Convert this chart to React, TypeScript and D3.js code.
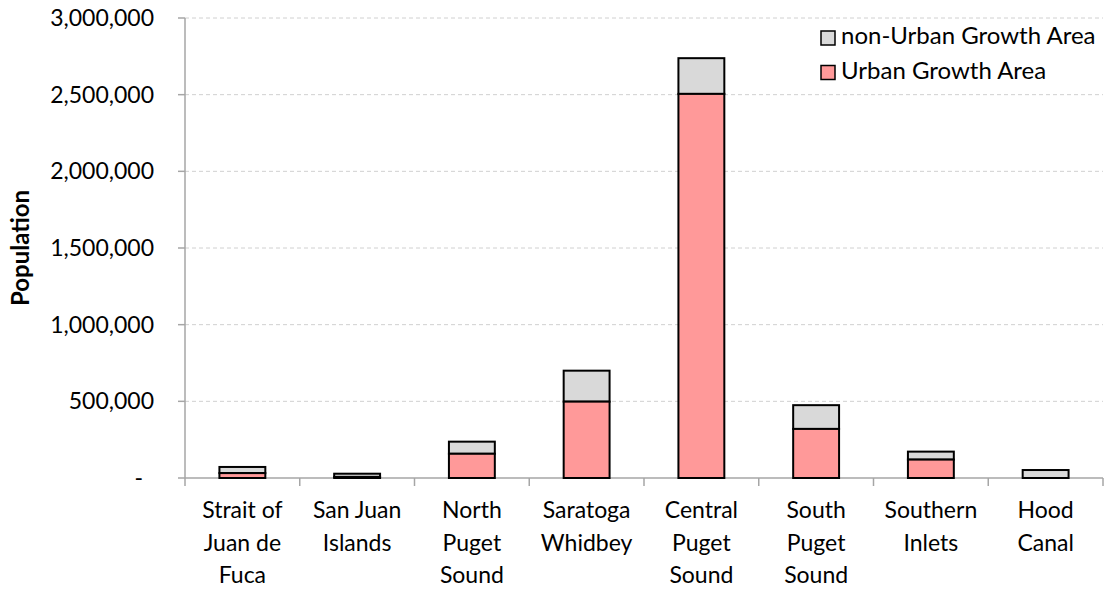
import React from "react";
import * as d3 from "d3";

const categories: string[][] = [
  ["Strait of", "Juan de", "Fuca"],
  ["San Juan", "Islands"],
  ["North", "Puget", "Sound"],
  ["Saratoga", "Whidbey"],
  ["Central", "Puget", "Sound"],
  ["South", "Puget", "Sound"],
  ["Southern", "Inlets"],
  ["Hood", "Canal"],
];
const urban: number[] = [32000, 7000, 158000, 498000, 2505000, 320000, 120000, 0];
const nonUrban: number[] = [40000, 21000, 79000, 202000, 233000, 155000, 52000, 52000];
const yTicks: number[] = [0, 500000, 1000000, 1500000, 2000000, 2500000, 3000000];

const W = 1109, H = 590;
const left = 185, right = 1103, top = 18, bottom = 478;
const FONT = "Lato, 'Open Sans', sans-serif";

export default function App() {
  const x = d3.scaleBand<number>().domain(d3.range(categories.length)).range([left, right]).paddingInner(0.6).paddingOuter(0.3);
  const band = d3.scaleBand<number>().domain(d3.range(categories.length)).range([left, right]);
  const y = d3.scaleLinear().domain([0, 3000000]).range([bottom, top]);
  const fmt = d3.format(",");
  return (
    <svg width={W} height={H} style={{ position: "absolute", left: 0, top: 0, background: "#fff" }} fontFamily={FONT}>
      {yTicks.map((t) => (
        <g key={t}>
          {t > 0 && <line x1={left} x2={right} y1={y(t)} y2={y(t)} stroke="#d0d0d0" strokeDasharray="4,3" strokeWidth={1} />}
          <line x1={left - 7} x2={left} y1={y(t)} y2={y(t)} stroke="#a6a6a6" strokeWidth={1.5} />
          <text x={t === 0 ? 143 : 154} y={y(t)} dy="0.35em" textAnchor="end" fontSize={23} fill="#000">
            {t === 0 ? "-" : fmt(t)}
          </text>
        </g>
      ))}
      <line x1={left} x2={left} y1={top} y2={bottom} stroke="#a6a6a6" strokeWidth={1.5} />
      <line x1={left} x2={right} y1={bottom} y2={bottom} stroke="#a6a6a6" strokeWidth={1.5} />
      {d3.range(categories.length + 1).map((i) => {
        const xx = i < categories.length ? band(i)! : right;
        return <line key={i} x1={xx} x2={xx} y1={bottom} y2={bottom + 8} stroke="#a6a6a6" strokeWidth={1.5} />;
      })}
      {categories.map((c, i) => {
        const x0 = x(i)!;
        const bw = x.bandwidth();
        const u = urban[i];
        const n = nonUrban[i];
        return (
          <g key={i}>
            <rect x={x0} y={y(u + n)} width={bw} height={y(u) - y(u + n)} fill="#d9d9d9" stroke="#000" strokeWidth={2} />
            {u > 0 && <rect x={x0} y={y(u)} width={bw} height={y(0) - y(u)} fill="#ff9999" stroke="#000" strokeWidth={2} />}
            {c.map((line, j) => (
              <text key={j} x={band(i)! + band.bandwidth() / 2} y={518 + j * 32.5} textAnchor="middle" fontSize={23} fill="#000">
                {line}
              </text>
            ))}
          </g>
        );
      })}
      <text transform={`translate(29,${(top + bottom) / 2}) rotate(-90)`} textAnchor="middle" fontSize={24} fontWeight="bold" fill="#000">
        Population
      </text>
      <g>
        <rect x={821} y={31} width={14} height={14} fill="#d9d9d9" stroke="#000" strokeWidth={1.5} />
        <text x={841} y={44} fontSize={24} fill="#000">non-Urban Growth Area</text>
        <rect x={821} y={65.5} width={14} height={14} fill="#ff9999" stroke="#000" strokeWidth={1.5} />
        <text x={841} y={78.5} fontSize={24} fill="#000">Urban Growth Area</text>
      </g>
    </svg>
  );
}
